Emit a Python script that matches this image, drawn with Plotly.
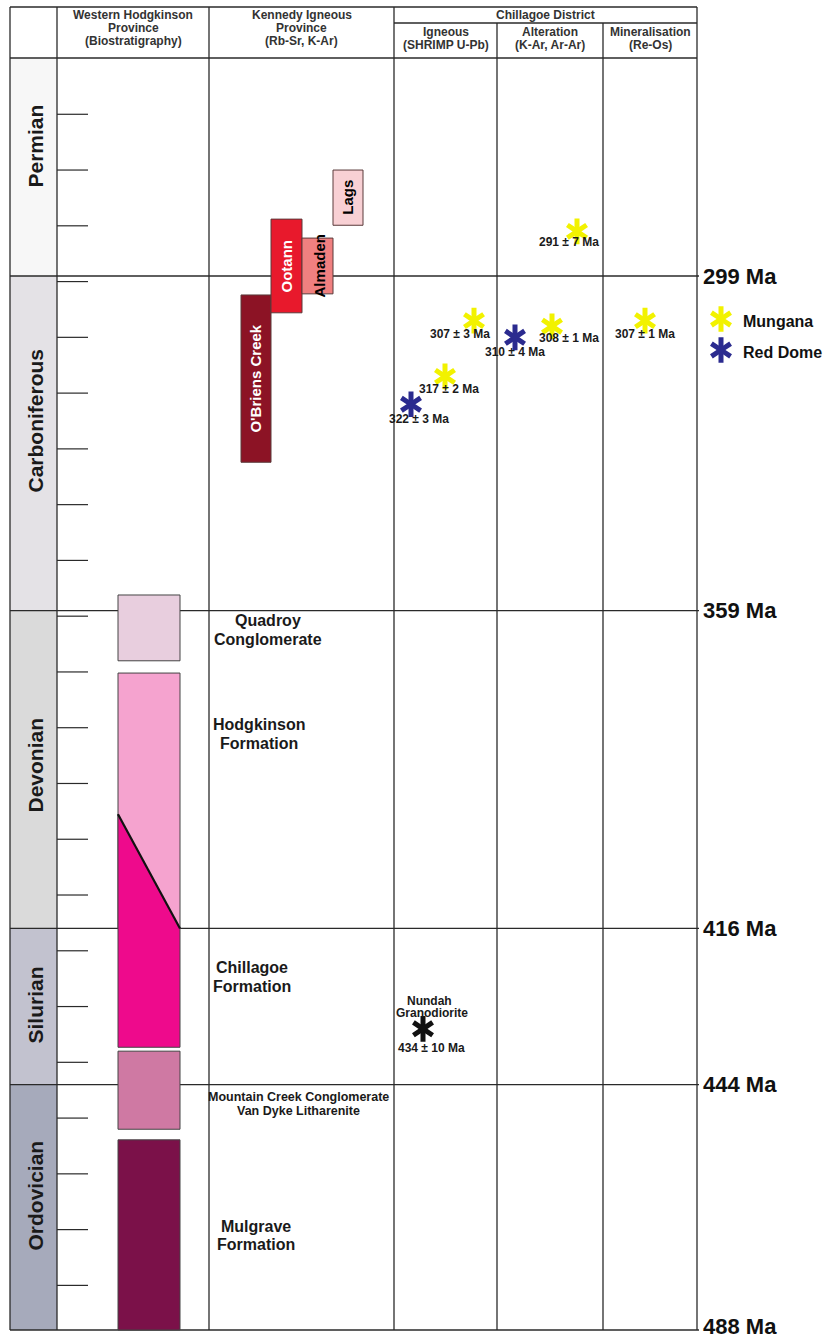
import plotly.graph_objects as go

# ---------------- data ----------------
periods = ["Permian", "Carboniferous", "Devonian", "Silurian", "Ordovician"]
period_top_ma = [260, 299, 359, 416, 444]
period_base_ma = [299, 359, 416, 444, 488]

boundary_ma = [299, 359, 416, 444, 488]
boundary_labels = ["299 Ma", "359 Ma", "416 Ma", "444 Ma", "488 Ma"]

tick_ma = [270, 280, 290, 300, 310, 320, 330, 340, 350, 360, 370, 380,
           390, 400, 410, 420, 430, 440, 450, 460, 470, 480]

# Western Hodgkinson Province (biostratigraphy)
wh_units = [["Quadroy", "Conglomerate"], ["Hodgkinson", "Formation"], ["Chillagoe", "Formation"],
            ["Mountain Creek Conglomerate", "Van Dyke Litharenite"], ["Mulgrave", "Formation"]]
wh_top_ma = [356.2, 370.2, 416.0, 438.0, 453.9]
wh_base_ma = [368.0, 416.0, 437.3, 452.0, 488.0]
chillagoe_top_left_ma = 395.5   # diachronous top of Chillagoe Formation

# Kennedy Igneous Province (Rb-Sr, K-Ar)
kip_units = ["O'Briens Creek", "Ootann", "Almaden", "Lags"]
kip_top_ma = [302.4, 288.8, 292.2, 280.0]
kip_base_ma = [332.4, 305.6, 302.2, 289.9]

# Chillagoe District dates
date_age = [291, 307, 317, 322, 310, 308, 307, 434]
date_err = [7, 3, 2, 3, 4, 1, 1, 10]
date_method = ["Alteration", "Igneous", "Igneous", "Igneous", "Alteration",
               "Alteration", "Mineralisation", "Igneous"]
date_deposit = ["Mungana", "Mungana", "Mungana", "Red Dome", "Red Dome",
                "Mungana", "Mungana", "Nundah"]

# ---------------- layout / style ----------------
W, H = 832, 1340
PX_PER_MA = 5.5767
Y299 = 276.0


def ma_at(p):
    return 299 + (p - Y299) / PX_PER_MA


def yp(p):
    return 1 - p / H


FONT = "Liberation Sans, Arial, sans-serif"
LINE = "#2a2a2a"
TXT = "#1a1a1a"
col_x = [10, 57, 209, 394, 497, 603, 697]
period_colors = ["#f7f7f7", "#e4e2e6", "#dadada", "#c2c2cf", "#a6aabb"]
period_label_px = [146, 421, 765, 1005, 1196]
wh_colors = ["#e8cede", "#f5a3cf", "#ee0a8c", "#cf79a3", "#7b1149"]
wh_x = (118, 180)
wh_lab_x = [268, 259, 251.5, 298, 255.5]
wh_lab_px = [(620, 639), (724, 743), (967, 986), (1097, 1111), (1226, 1244)]
wh_lab_size = [16, 16, 16, 12.5, 16, 16]
kip_colors = ["#8c1325", "#e8192c", "#f08080", "#f8d0d4"]
kip_x = [(241, 271), (271, 302), (302, 333), (333, 363)]
kip_text_color = ["white", "white", "black", "black"]
deposit_color = {"Mungana": "#f2f200", "Red Dome": "#2b2b8f", "Nundah": "#111111"}
date_x = [577, 474, 445, 411, 515, 552, 645, 423]
lab_dx = [-8, -14, 4, 8, 0, 17, 0, 8]
lab_dy = [-11, -13, -13, -15, -15, -12, -13, -19]
boundary_lab_shift = [0, 0, 0, 0, 4]

shapes = []
ann = []

# period fills
for i, p in enumerate(periods):
    shapes.append(dict(type="rect", xref="x", yref="y", x0=col_x[0], x1=col_x[1],
                       y0=period_top_ma[i], y1=period_base_ma[i],
                       fillcolor=period_colors[i], line=dict(width=0), layer="below"))
    ann.append(dict(x=(col_x[0] + col_x[1]) / 2 + 1, y=ma_at(period_label_px[i]),
                    xref="x", yref="y", text="<b>%s</b>" % p, textangle=-90, showarrow=False,
                    font=dict(family=FONT, size=21, color=TXT)))

# ticks
for t in tick_ma:
    shapes.append(dict(type="line", xref="x", yref="y", x0=57, x1=88, y0=t, y1=t,
                       line=dict(color=LINE, width=1.2)))

# boundary lines and labels
for k, (b, lab) in enumerate(zip(boundary_ma, boundary_labels)):
    shapes.append(dict(type="line", xref="x", yref="y", x0=col_x[0], x1=col_x[-1] + 2, y0=b, y1=b,
                       line=dict(color=LINE, width=1.3)))
    ann.append(dict(x=701, y=b, xref="x", yref="y", text="<b>%s</b>" % lab, showarrow=False,
                    xanchor="left", yanchor="middle", yshift=boundary_lab_shift[k],
                    font=dict(family=FONT, size=22, color="#111111")))

# frame / column lines
top_p, head_p, sub_p, bot_p = 7, 58, 23, 1330
for i, x in enumerate(col_x):
    y0 = top_p if i not in (4, 5) else sub_p
    shapes.append(dict(type="line", xref="x", yref="paper", x0=x, x1=x, y0=yp(y0), y1=yp(bot_p),
                       line=dict(color=LINE, width=1.3)))
for (xa, xb, p) in [(col_x[0], col_x[-1], top_p), (col_x[0], col_x[-1], head_p),
                    (col_x[3], col_x[-1], sub_p)]:
    shapes.append(dict(type="line", xref="x", yref="paper", x0=xa, x1=xb,
                       y0=yp(p), y1=yp(p), line=dict(color=LINE, width=1.3)))

# header text (one annotation per line)
HF = dict(family=FONT, size=12, color="#333333")
headers = [
    ((col_x[1] + col_x[2]) / 2, [15, 28, 41], ["Western Hodgkinson", "Province", "(Biostratigraphy)"]),
    ((col_x[2] + col_x[3]) / 2, [15, 28, 41], ["Kennedy Igneous", "Province", "(Rb-Sr, K-Ar)"]),
    ((col_x[3] + col_x[6]) / 2, [15], ["Chillagoe District"]),
    ((col_x[3] + col_x[4]) / 2, [32, 45], ["Igneous", "(SHRIMP U-Pb)"]),
    ((col_x[4] + col_x[5]) / 2, [32, 45], ["Alteration", "(K-Ar, Ar-Ar)"]),
    ((col_x[5] + col_x[6]) / 2, [32, 45], ["Mineralisation", "(Re-Os)"]),
]
for x, ps, ts in headers:
    for p, t in zip(ps, ts):
        ann.append(dict(x=x, y=yp(p), xref="x", yref="paper", text="<b>%s</b>" % t,
                        showarrow=False, font=HF, yanchor="middle"))

# Western Hodgkinson units
for i in range(len(wh_units)):
    if i == 2:
        continue
    shapes.append(dict(type="rect", xref="x", yref="y", x0=wh_x[0], x1=wh_x[1],
                       y0=wh_top_ma[i], y1=wh_base_ma[i], fillcolor=wh_colors[i],
                       line=dict(color="#444444", width=1)))
# Chillagoe Formation (diachronous top)
path = "M %d,%f L %d,%f L %d,%f L %d,%f Z" % (
    wh_x[0], chillagoe_top_left_ma, wh_x[1], wh_top_ma[2],
    wh_x[1], wh_base_ma[2], wh_x[0], wh_base_ma[2])
shapes.append(dict(type="path", xref="x", yref="y", path=path, fillcolor=wh_colors[2],
                   line=dict(color="#444444", width=1)))
shapes.append(dict(type="line", xref="x", yref="y", x0=wh_x[0], x1=wh_x[1],
                   y0=chillagoe_top_left_ma, y1=wh_top_ma[2], line=dict(color="#111111", width=2.2)))

for i, lines in enumerate(wh_units):
    for p, t in zip(wh_lab_px[i], lines):
        ann.append(dict(x=wh_lab_x[i], y=ma_at(p), xref="x", yref="y", text="<b>%s</b>" % t,
                        showarrow=False, yanchor="middle",
                        font=dict(family=FONT, size=wh_lab_size[i], color=TXT)))

# Kennedy Igneous Province bars
for i, u in enumerate(kip_units):
    shapes.append(dict(type="rect", xref="x", yref="y", x0=kip_x[i][0], x1=kip_x[i][1],
                       y0=kip_top_ma[i], y1=kip_base_ma[i], fillcolor=kip_colors[i],
                       line=dict(color="#5a3a3a", width=1)))
    ann.append(dict(x=(kip_x[i][0] + kip_x[i][1]) / 2 + (2 if i == 2 else 0),
                    y=(kip_top_ma[i] + kip_base_ma[i]) / 2,
                    xref="x", yref="y", text="<b>%s</b>" % u, textangle=-90, showarrow=False,
                    font=dict(family=FONT, size=15, color=kip_text_color[i])))

fig = go.Figure()

# stars (6-armed asterisks from two overlaid Y symbols)
for dep in ["Mungana", "Red Dome", "Nundah"]:
    idx = [i for i, d in enumerate(date_deposit) if d == dep]
    xs = [date_x[i] for i in idx]
    ys = [date_age[i] for i in idx]
    for sym in ["y-up", "y-down"]:
        fig.add_trace(go.Scatter(x=xs, y=ys, mode="markers", showlegend=False, hoverinfo="skip",
                                 marker=dict(symbol=sym, size=16,
                                             line=dict(color=deposit_color[dep], width=5))))

for i in range(len(date_age)):
    ann.append(dict(x=date_x[i] + lab_dx[i], y=date_age[i], xref="x", yref="y",
                    yshift=lab_dy[i],
                    text="<b>%d ± %d Ma</b>" % (date_age[i], date_err[i]), showarrow=False,
                    font=dict(family=FONT, size=12, color=TXT)))
# Nundah Granodiorite name
for t, sh, xx in [("Nundah", 28, 429), ("Granodiorite", 16, 432)]:
    ann.append(dict(x=xx, y=date_age[7], xref="x", yref="y", yshift=sh,
                    text="<b>%s</b>" % t, showarrow=False,
                    font=dict(family=FONT, size=12, color=TXT)))

# legend
leg_y = [ma_at(319), ma_at(350)]
for j, dep in enumerate(["Mungana", "Red Dome"]):
    for sym in ["y-up", "y-down"]:
        fig.add_trace(go.Scatter(x=[721], y=[leg_y[j]], mode="markers", showlegend=False,
                                 hoverinfo="skip",
                                 marker=dict(symbol=sym, size=16,
                                             line=dict(color=deposit_color[dep], width=5))))
    ann.append(dict(x=741, y=leg_y[j], xref="x", yref="y", text="<b>%s</b>" % dep,
                    showarrow=False, xanchor="left", yshift=-2,
                    font=dict(family=FONT, size=16, color="#111111")))

fig.update_layout(
    width=W, height=H, margin=dict(l=0, r=0, t=0, b=0),
    paper_bgcolor="white", plot_bgcolor="white",
    shapes=shapes, annotations=ann, showlegend=False,
    xaxis=dict(range=[0, W], visible=False, fixedrange=True),
    yaxis=dict(range=[ma_at(H), ma_at(0)], visible=False, fixedrange=True),
)

fig.write_html("out.html", config={"displayModeBar": False},
               post_script="document.body.style.margin='0';")
